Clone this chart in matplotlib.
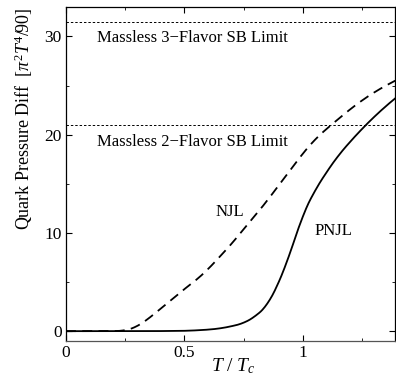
import numpy as np
import matplotlib.pyplot as plt
from matplotlib.ticker import MultipleLocator

plt.rcParams['font.family'] = ['Liberation Serif', 'DejaVu Serif']
plt.rcParams['mathtext.fontset'] = 'custom'
plt.rcParams['mathtext.rm'] = 'Liberation Serif'
plt.rcParams['mathtext.it'] = 'Liberation Serif:italic'

# --- data ---
t_njl = [0, 0.2, 0.25, 0.3, 0.35, 0.4, 0.45, 0.5, 0.55, 0.6, 0.65, 0.7, 0.75, 0.8,
         0.85, 0.9, 0.95, 1.0, 1.05, 1.1, 1.15, 1.2, 1.25, 1.3, 1.35, 1.39]
p_njl = [0, 0, 0.05, 0.45, 1.3, 2.3, 3.3, 4.3, 5.2, 6.3, 7.6, 8.9, 10.4, 11.8,
         13.3, 14.9, 16.5, 18.1, 19.5, 20.6, 21.6, 22.6, 23.5, 24.3, 25.0, 25.5]

t_pnjl = [0, 0.3, 0.4, 0.5, 0.55, 0.6, 0.65, 0.7, 0.75, 0.8, 0.85, 0.9, 0.93, 0.95,
          0.97, 1.0, 1.05, 1.1, 1.15, 1.2, 1.25, 1.3, 1.35, 1.39]
p_pnjl = [0, 0.0, 0.01, 0.03, 0.08, 0.15, 0.27, 0.5, 0.8, 1.5, 2.6, 5.0, 6.8, 8.3,
          9.6, 11.9, 14.3, 16.2, 17.9, 19.3, 20.6, 21.8, 22.9, 23.7]

sb_limits = [31.5, 21.0]
sb_labels = ['Massless 3\u2212Flavor SB Limit', 'Massless 2\u2212Flavor SB Limit']

fig = plt.figure(figsize=(3.96, 3.83), dpi=100)
ax = fig.add_axes([0.1667, 0.1097, 0.8313, 0.872])

# smooth the read points a little with dense interpolation
def smooth(t, p):
    tt = np.linspace(t[0], t[-1], 400)
    pp = np.interp(tt, t, p)
    k = 9
    pad = np.concatenate([np.full(k, pp[0]), pp, np.full(k, pp[-1])])
    ker = np.ones(2 * k + 1) / (2 * k + 1)
    ps = np.convolve(pad, ker, mode='same')[k:-k]
    ps[-k:] = pp[-k:]
    return tt, ps

tn, pn = smooth(t_njl, p_njl)
tp, pp = smooth(t_pnjl, p_pnjl)

ax.plot(tn, pn, color='black', lw=1.3, ls=(0, (5.5, 3.5)))
ax.plot(tp, pp, color='black', lw=1.3)

for y in sb_limits:
    ax.axhline(y, color='black', lw=0.7, ls=(0, (2.5, 2)))

ax.text(0.13, 29.8, sb_labels[0], fontsize=12, va='center', ha='left')
ax.text(0.13, 19.3, sb_labels[1], fontsize=12, va='center', ha='left')
ax.text(0.69, 12.1, 'NJL', fontsize=12, va='center', ha='center')
ax.text(1.13, 10.2, 'PNJL', fontsize=12, va='center', ha='center')

ax.set_xlim(0, 1.39)
ax.set_ylim(-1, 33)
ax.xaxis.set_major_locator(MultipleLocator(0.5))
ax.xaxis.set_minor_locator(MultipleLocator(0.25))
ax.yaxis.set_major_locator(MultipleLocator(10))
ax.yaxis.set_minor_locator(MultipleLocator(5))
ax.set_xticks([0, 0.5, 1])
ax.set_xticklabels(['0', '0.5', '1'])
ax.tick_params(which='both', direction='in', top=True, right=True, labelsize=12.5, pad=3)
ax.tick_params(which='major', length=4, width=0.8)
ax.tick_params(which='minor', length=2, width=0.6)

for s in ['left', 'top', 'right']:
    ax.spines[s].set_linewidth(0.9)
ax.spines['bottom'].set_color('#555555')
ax.spines['bottom'].set_linewidth(0.9)

ax.set_xlabel(r'$T\ /\ T_c$', fontsize=14)
ax.xaxis.set_label_coords(0.507, -0.045)
ax.set_ylabel(r'Quark Pressure Diff  [$\pi^2 T^4/90$]', fontsize=13)
ax.yaxis.set_label_coords(-0.095, 0.665)

fig.savefig('out.png', dpi=100)
